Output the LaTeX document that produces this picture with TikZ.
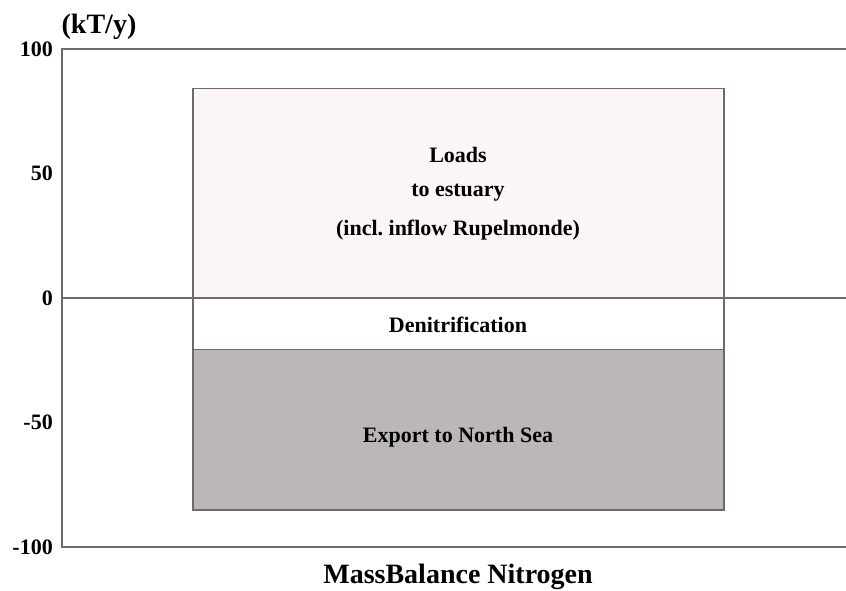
\documentclass[tikz,border=0pt]{standalone}
\usepackage{fontspec}
\setmainfont{Liberation Serif}
\frenchspacing

\definecolor{loadfill}{HTML}{FBF5F6}
\definecolor{exportfill}{HTML}{BBB7B9}
\definecolor{linegray}{HTML}{6E6A6C}

\tikzset{
    axisline/.style={draw=linegray, line width=1.2pt},
    barline/.style={draw=linegray, line width=1.2pt},
    ticklabel/.style={anchor=east, inner sep=0pt, font=\fontsize{22}{24}\selectfont\bfseries},
    barlabel/.style={inner sep=1pt, font=\fontsize{22}{24}\selectfont\bfseries},
}

\begin{document}
\begin{tikzpicture}[x=1pt, y=2.49pt]
    \useasboundingbox[fill=white] (0,-117.3) rectangle (846,119.7);

    % bars
    \fill[loadfill] (193,0) rectangle (724,84.3);
    \fill[exportfill] (193,-20.5) rectangle (724,-85.1);
    \draw[barline] (193,-85.1) rectangle (724,84.3);
    \draw[barline] (193,-20.5) -- (724,-20.5);

    % axes
    \draw[axisline] (846,100) -- (62,100) -- (62,-100) -- (846,-100);
    \draw[axisline] (62,0) -- (846,0);

    \foreach \v in {100,50,0,-50,-100}
        \node[ticklabel] (tick\v) at (53,\v) {\v};
    \node[font=\fontsize{28}{30}\selectfont\bfseries, inner sep=0pt] (unit) at (99,108.8) {(kT/y)};

    % labels
    \node[barlabel] (loads) at (458,57.4) {Loads};
    \node[barlabel] (estuary) at (458,42.2) {to estuary};
    \node[barlabel] (inflow) at (458,27.3) {(incl. inflow Rupelmonde)};
    \node[barlabel] (denit) at (458,-10.8) {Denitrification};
    \node[barlabel] (export) at (458,-55.8) {Export to North Sea};

    \node[anchor=base, inner sep=0pt, font=\fontsize{28}{30}\selectfont\bfseries] (title) at (458,-114.7) {MassBalance Nitrogen};
\end{tikzpicture}
\end{document}
